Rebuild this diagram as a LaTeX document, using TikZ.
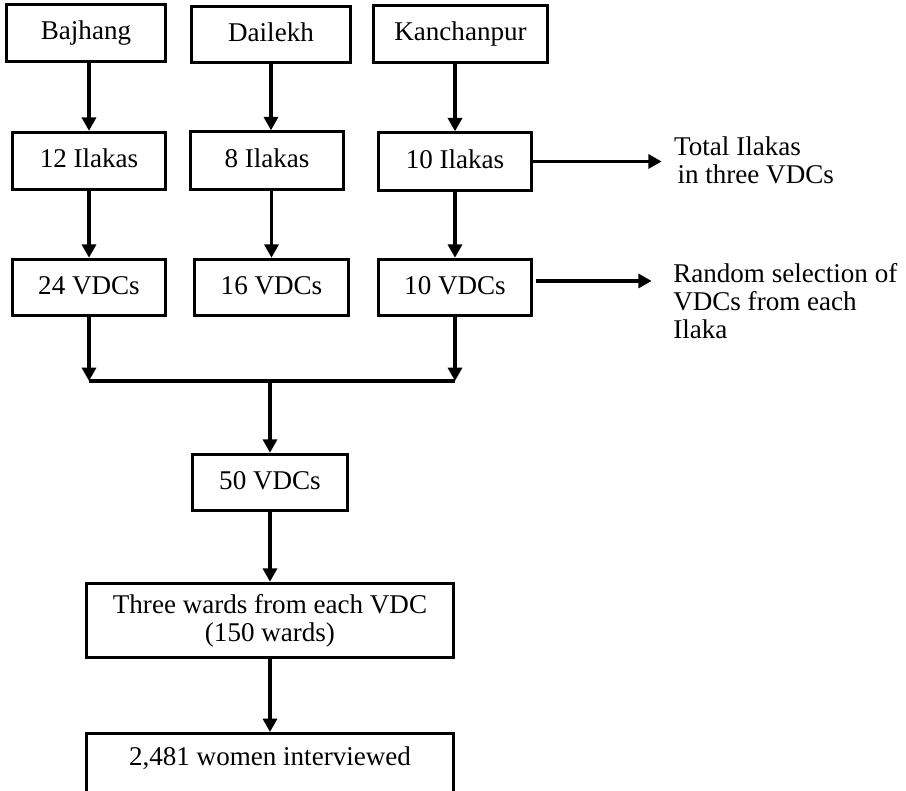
\documentclass[tikz,border=0pt]{standalone}
\usepackage{fontspec}
\setmainfont{Liberation Serif}
\usetikzlibrary{arrows.meta}
\tikzset{
    box/.style={draw, line width=2.3pt, inner sep=0pt, minimum width=115pt, minimum height=43pt},
    cell/.style={box, text height=14pt, text depth=4pt},
    arr/.style={line width=2.4pt, -{Triangle[length=10pt,width=10.5pt]}},
    note/.style={align=left, inner ysep=0pt, anchor=north west}
}

\begin{document}
\begin{tikzpicture}[x=0.75pt, y=-0.75pt, font=\fontsize{20.3}{21}\selectfont]
    \useasboundingbox (0,0) rectangle (906,791);
    \clip (0,0) rectangle (906,791);

    \node[cell, minimum width=119.5pt] (bajhang) at (86,33) {Bajhang};
    \node[cell, minimum width=119.5pt, minimum height=42.3pt] (dailekh) at (271,34.5) {Dailekh};
    \node[cell, minimum width=130.8pt] (kanchanpur) at (460.5,34) {Kanchanpur};

    \node[cell] (ilakaA) at (89,161) {12 Ilakas};
    \node[cell] (ilakaB) at (267,160.5) {8 Ilakas};
    \node[cell] (ilakaC) at (455,161.5) {10 Ilakas};

    \node[cell, minimum height=42.3pt] (vdcA) at (89,287.5) {24 VDCs};
    \node[cell, minimum width=115.8pt, minimum height=42.3pt] (vdcB) at (271.5,287.5) {16 VDCs};
    \node[cell, minimum height=42.3pt] (vdcC) at (455,287.5) {10 VDCs};

    \coordinate (join) at (270,381);
    \node[cell, minimum width=116.5pt, minimum height=42.3pt] (total) at (270,482.5) {50 VDCs};
    \node[box, minimum width=275.5pt, minimum height=55.8pt, align=center] (wards) at (270,620.5) {Three wards from each VDC\\(150 wards)};
    \node[box, minimum width=275.5pt, anchor=north, inner ysep=0pt, text height=24pt, text depth=28pt] (women) at (270,732) {2,481 women interviewed};

    \node[note, inner xsep=9.2pt] (noteA) at (661.7,136.5) {Total Ilakas\\\hspace*{2.5pt}in three VDCs};
    \node[note, inner xsep=16pt] (noteB) at (651.7,263.5) {Random selection of\\VDCs from each\\Ilaka};

    \draw[arr] (ilakaA.north |- bajhang.south) -- (ilakaA.north);
    \draw[arr] (dailekh.south) -- (dailekh.south |- ilakaB.north);
    \draw[arr] (ilakaC.north |- kanchanpur.south) -- (ilakaC.north);

    \draw[arr] (ilakaA.south) -- (vdcA.north);
    \draw[arr] (vdcB.north |- ilakaB.south) -- (vdcB.north);
    \draw[arr] (ilakaC.south) -- (vdcC.north);

    \draw[arr] (vdcA.south) -- (vdcA.south |- join);
    \draw[arr] (vdcC.south) -- (vdcC.south |- join);
    \draw[line width=2.4pt] (vdcA.south |- join) -- (vdcC.south |- join);
    \draw[arr] (join) -- (total.north);
    \draw[arr] (total.south) -- (wards.north);
    \draw[arr] (wards.south) -- (women.north);

    \draw[arr] (ilakaC.east) -- (ilakaC.east -| noteA.west);
    \draw[arr] ([xshift=2pt,yshift=4.9pt]vdcC.east) -- ([yshift=4.9pt]vdcC.east -| noteB.west);
\end{tikzpicture}
\end{document}
